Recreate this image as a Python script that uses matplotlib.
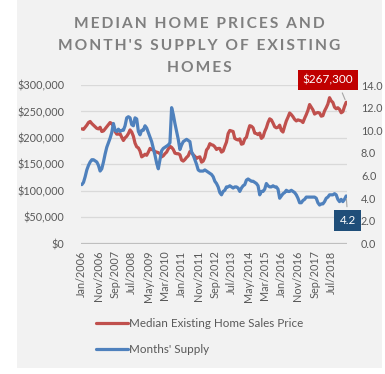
import matplotlib
matplotlib.use('Agg')
import matplotlib.pyplot as plt
from matplotlib.patches import Rectangle
import pandas as pd

plt.rcParams['font.family'] = ['Lato', 'DejaVu Sans']

# 月度数据：2006年1月 - 2019年4月
months = pd.date_range('2006-01-01', periods=160, freq='MS')

median_price = [
    217000, 216000, 220000, 224000, 229000, 231000, 227000, 224000, 221000, 218000, 217000, 220000,
    212000, 213000, 217000, 221000, 225000, 229000, 227000, 222000, 212000, 207000, 207000, 208000,
    201000, 195000, 200000, 203000, 208000, 215000, 211000, 203000, 190000, 183000, 181000, 175000,
    164000, 166000, 169000, 167000, 173000, 180000, 178000, 177000, 174000, 173000, 172000, 170000,
    164000, 166000, 170000, 173000, 179000, 184000, 182000, 178000, 171000, 170000, 170000, 168000,
    158000, 156000, 159000, 163000, 166000, 174000, 172000, 168000, 165000, 161000, 163000, 164000,
    154000, 156000, 163000, 177000, 181000, 189000, 187000, 186000, 183000, 178000, 180000, 180000,
    173000, 175000, 184000, 192000, 208000, 214000, 213000, 212000, 199000, 197000, 196000, 198000,
    188000, 189000, 198000, 201000, 213000, 223000, 222000, 219000, 209000, 208000, 206000, 209000,
    199000, 202000, 212000, 219000, 229000, 236000, 234000, 228000, 221000, 219000, 220000, 224000,
    214000, 211000, 222000, 232000, 239000, 247000, 244000, 240000, 235000, 232000, 234000, 233000,
    232000, 229000, 237000, 244000, 252000, 263000, 258000, 253000, 245000, 247000, 248000, 247000,
    241000, 242000, 251000, 257000, 264000, 276000, 270000, 267000, 258000, 255000, 257000, 254000,
    247500, 249500, 259400, 267300,
]

months_supply = [
    5.2, 5.4, 5.9, 6.5, 6.9, 7.2, 7.4, 7.4, 7.3, 7.2, 6.9, 6.4,
    6.6, 7.2, 7.9, 8.5, 8.9, 9.3, 9.8, 10.6, 10.0, 9.9, 10.1, 9.9,
    10.0, 10.0, 10.4, 11.1, 11.2, 11.1, 10.5, 10.4, 11.1, 11.0, 9.9, 9.6,
    10.0, 10.0, 10.4, 10.2, 9.8, 9.4, 9.0, 8.4, 7.8, 7.1, 6.6, 7.4,
    8.2, 8.4, 8.5, 8.6, 8.7, 8.9, 12.0, 11.4, 10.6, 9.9, 9.2, 8.3,
    8.7, 9.0, 9.1, 9.2, 9.1, 9.0, 8.1, 7.8, 7.4, 7.0, 6.5, 6.4,
    6.4, 6.4, 6.5, 6.4, 6.3, 6.2, 6.1, 5.9, 5.5, 5.3, 5.0, 4.5,
    4.3, 4.6, 4.7, 5.0, 5.0, 5.1, 5.0, 4.9, 5.0, 5.0, 4.9, 4.6,
    4.9, 5.1, 5.2, 5.6, 5.7, 5.6, 5.5, 5.5, 5.4, 5.3, 5.1, 4.3,
    4.6, 4.6, 4.8, 5.3, 5.1, 5.0, 5.0, 5.1, 5.0, 5.0, 4.8, 4.0,
    4.2, 4.4, 4.5, 4.7, 4.6, 4.6, 4.7, 4.6, 4.5, 4.3, 4.0, 3.6,
    3.6, 3.8, 3.9, 4.1, 4.1, 4.1, 4.1, 4.1, 4.1, 4.0, 3.6, 3.4,
    3.5, 3.5, 3.7, 4.0, 4.1, 4.3, 4.3, 4.3, 4.4, 4.3, 3.9, 3.7,
    3.9, 3.7, 3.9, 4.2,
]

title_lines = ["MEDIAN HOME PRICES AND", "MONTH'S SUPPLY OF EXISTING", "HOMES"]
price_ticks = [0, 50000, 100000, 150000, 200000, 250000, 300000]
supply_ticks = [0, 2, 4, 6, 8, 10, 12, 14]

RED = '#c0504d'
BLUE = '#4f81bd'
TXT = '#595959'

fig = plt.figure(figsize=(3.85, 3.74), dpi=100)
fig.patch.set_facecolor('white')
# 灰色图表背景
fig.patches.append(Rectangle((0.044, 0.016), 0.948, 0.984, transform=fig.transFigure,
                             facecolor='#f2f2f2', edgecolor='none', zorder=-10))

ax = fig.add_axes([0.2104, 0.3489, 0.6909, 0.4238])
ax.set_facecolor('none')
ax2 = ax.twinx()

x = list(range(len(months)))
l1, = ax.plot(x, median_price, color=RED, lw=2.3, solid_capstyle='round',
              label='Median Existing Home Sales Price')
l2, = ax2.plot(x, months_supply, color=BLUE, lw=2.3, solid_capstyle='round',
               label="Months' Supply")

ax.set_xlim(-0.5, len(months) - 0.5)
ax.set_ylim(0, 300000)
ax2.set_ylim(0, 14)

ax.set_yticks(price_ticks)
ax.set_yticklabels(['$0' if v == 0 else '${:,}'.format(v) for v in price_ticks])
ax2.set_yticks(supply_ticks)
ax2.set_yticklabels(['{:.1f}'.format(v) for v in supply_ticks])

xt = x[::10]
ax.set_xticks(xt)
ax.set_xticklabels([months[i].strftime('%b/%Y') for i in xt], rotation=90)

ax.grid(axis='y', color='#d9d9d9', lw=0.9)
ax.set_axisbelow(True)
for a in (ax, ax2):
    for s in ('top', 'left', 'right', 'bottom'):
        a.spines[s].set_visible(False)
    a.tick_params(length=0, labelsize=7.8, labelcolor=TXT)
ax.axhline(0, color='#bfbfbf', lw=1.6, zorder=1)
ax.tick_params(axis='y', pad=12)
ax.tick_params(axis='x', pad=5)
ax2.tick_params(axis='y', pad=10)

# 数据标签
ax.annotate('$267,300', xy=(x[-1], median_price[-1]), xytext=(-13, 16),
            textcoords='offset points', ha='center', va='center',
            fontsize=8.5, color='white', annotation_clip=False,
            bbox=dict(boxstyle='square,pad=0.4', fc='#c00000', ec='none'),
            arrowprops=dict(arrowstyle='-', color='#a6a6a6', lw=0.8, relpos=(0.72, 0)))
ax2.annotate('4.2', xy=(x[-1], months_supply[-1]), xytext=(1, -17.5),
             textcoords='offset points', ha='center', va='center',
             fontsize=8.4, color='white', annotation_clip=False,
             bbox=dict(boxstyle='square,pad=0.45', fc='#1f4e79', ec='none'),
             arrowprops=dict(arrowstyle='-', color='#a6a6a6', lw=0.8, relpos=(0.5, 1)))

# 标题（加宽字距）
for i, line in enumerate(title_lines):
    spaced = '\u200a\u200a'.join(line)
    fig.text(199 / 385, 1 - (24 + 22 * i) / 374, spaced, ha='center', va='center',
             fontsize=11.2, fontweight='bold', color='#7f7f7f')

fig.legend(handles=[l1, l2], loc='upper left', bbox_to_anchor=(96 / 385, 1 - 318 / 374),
           frameon=False, fontsize=8.4, labelcolor=TXT, handlelength=2.7,
           handletextpad=0.15, labelspacing=1.25, borderaxespad=0, borderpad=0)

plt.savefig('out.png', dpi=100, facecolor=fig.get_facecolor())
